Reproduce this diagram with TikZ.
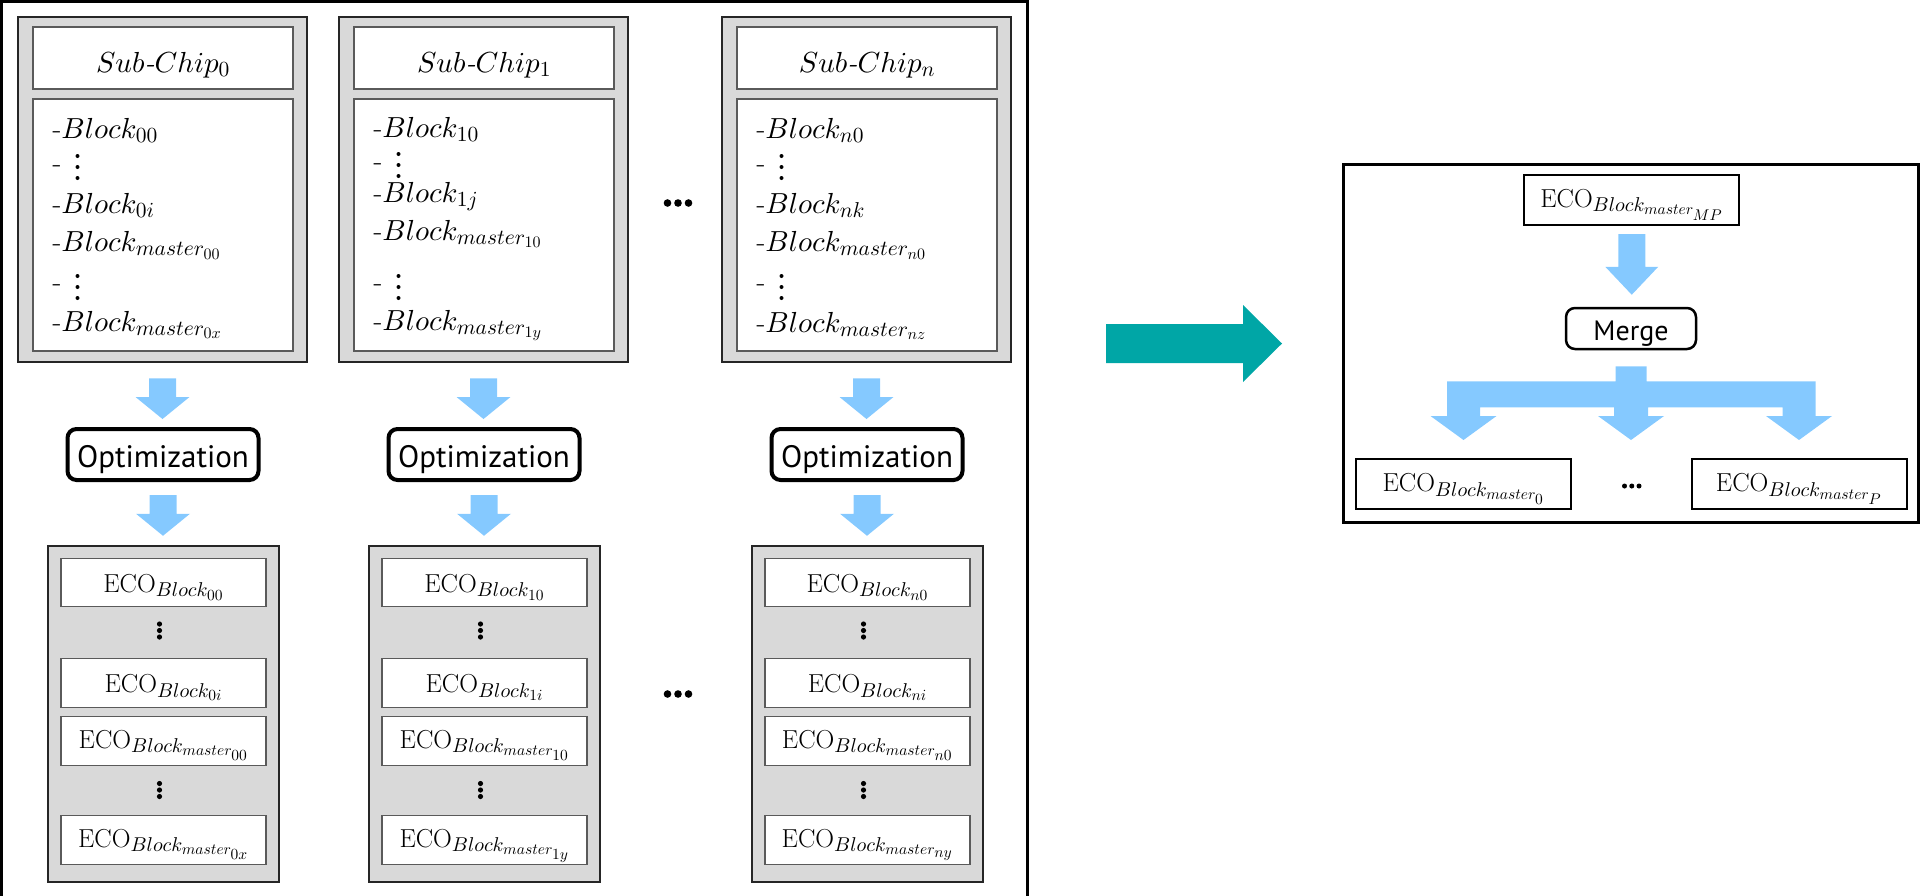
\documentclass[tikz,border=0pt]{standalone}
% math letters and symbols scaled freely to any size
\DeclareFontFamily{OML}{cmm}{\skewchar\font127 }
\DeclareFontShape{OML}{cmm}{m}{it}{<-> cmmi10}{}
\DeclareFontShape{OML}{cmm}{b}{it}{<-> cmmib10}{}
\DeclareFontFamily{OMS}{cmsy}{\skewchar\font48 }
\DeclareFontShape{OMS}{cmsy}{m}{n}{<-> cmsy10}{}
\DeclareFontFamily{OT1}{cmr}{\hyphenchar\font45 }
\DeclareFontShape{OT1}{cmr}{m}{n}{<-> cmr10}{}
\DeclareFontShape{OT1}{cmr}{m}{it}{<-> cmti10}{}
\DeclareFontShape{OT1}{cmr}{bx}{n}{<-> cmbx10}{}
% larger script sizes for the subscripted labels
\DeclareMathSizes{29}{29}{21.5}{16}
\DeclareMathSizes{26}{26}{20}{15.5}
\usepackage{fontspec}
\newfontfamily\labelsans{PT Sans}
\usetikzlibrary{calc}

\definecolor{panelgray}{RGB}{217,217,217}
\definecolor{flowblue}{RGB}{133,201,255}
\definecolor{flowteal}{RGB}{0,166,166}
\definecolor{thinedge}{RGB}{90,90,90}

% blue block arrow pointing down
% #1 top of the shaft, #2 tip, #3 head length, #4 half shaft width, #5 half head width
\newcommand\flowdown[5]{%
  \fill[flowblue] let \p1=(#1), \p2=(#2) in
    (\x1-#4pt,\y1) -- (\x1+#4pt,\y1) -- (\x1+#4pt,\y2+#3pt) -- (\x1+#5pt,\y2+#3pt)
    -- (\x1,\y2) -- (\x1-#5pt,\y2+#3pt) -- (\x1-#4pt,\y2+#3pt) -- cycle;}

\begin{document}
\begin{tikzpicture}[x=1pt,y=-1pt,
  chip/.style={draw=black!85,line width=2.5pt,fill=panelgray,minimum width=289pt,minimum height=345pt,inner sep=0pt},
  titlebox/.style={draw=thinedge,line width=1.2pt,fill=white,minimum width=260pt,minimum height=62pt,inner sep=0pt,text height=30pt,text depth=2pt,font=\fontsize{29}{34}\selectfont},
  listbox/.style={draw=thinedge,line width=1.2pt,fill=white,minimum width=260pt,minimum height=252pt,inner sep=0pt},
  listline/.style={anchor=base west,inner sep=0pt,font=\fontsize{29}{34}\selectfont},
  optbox/.style={draw=black,line width=4pt,rounded corners=9pt,fill=white,minimum width=191pt,minimum height=51pt,inner sep=0pt,text height=27pt,text depth=2pt,font=\labelsans\fontsize{31}{36}\selectfont},
  ecopanel/.style={draw=black!85,line width=2.5pt,fill=panelgray,minimum width=231pt,minimum height=336pt,inner sep=0pt},
  ecobox/.style={draw=thinedge,line width=1.2pt,fill=white,minimum width=205pt,minimum height=48.5pt,inner sep=0pt,text height=22pt,text depth=3pt,font=\fontsize{26}{30}\selectfont},
  mastertext/.style={text height=20pt,text depth=6pt},
  frame/.style={draw=black,line width=3pt},
  resultbox/.style={draw=black,line width=2pt,fill=white,minimum width=215pt,minimum height=50pt,inner sep=0pt,text height=20pt,text depth=5pt,font=\fontsize{26}{30}\selectfont},
  mergebox/.style={draw=black,line width=2.5pt,rounded corners=9pt,fill=white,minimum width=130pt,minimum height=41pt,inner sep=0pt,text height=25pt,text depth=2pt,font=\labelsans\fontsize{28}{32}\selectfont}
]
\useasboundingbox (0,0) rectangle (1921,895);
\clip (0,0) rectangle (1921,895);

% frame around the sub-chips (open at the bottom edge)
\draw[frame] (1.5,905) -- (1.5,1.5) -- (1027,1.5) -- (1027,905);

% one column per sub-chip
\foreach \i/\c/\n/\la/\lb/\lc/\ld/\ea/\eb/\ec/\ed/\ya/\yb/\yc/\yd/\dy in {
  0/162.5/0/00/0i/00/0x/00/0i/00/0x/138/213/251.5/331/156,
  1/483.5/1/10/1j/10/1y/10/1i/10/1y/137/202/240/330/154,
  n/866.5/n/n0/nk/n0/nz/n0/ni/n0/ny/138/213/251.5/332/156}{
  \node[chip] (sub\i) at (\c,189.5) {};
  \node[titlebox] (title\i) at (\c+0.5,58) {$Sub$\textit{-}$Chip_{\n}$};
  \node[listbox] (list\i) at (\c+0.5,225) {};
  \node[listline] (la\i) at (\c-110,\ya) {-$Block_{\la}$};
  \node[listline] (skipa\i) at (\c-110,\dy+16) {-};
  \foreach \k in {0,11,22} \fill (\c-85,\dy+\k) circle[radius=2pt];
  \node[listline] (lb\i) at (\c-110,\yb) {-$Block_{\lb}$};
  \node[listline] (lc\i) at (\c-110,\yc) {-$Block_{master_{\lc}}$};
  \node[listline] (skipb\i) at (\c-110,291) {-};
  \foreach \k in {276,287,298} \fill (\c-85,\k) circle[radius=2pt];
  \node[listline] (ld\i) at (\c-110,\yd) {-$Block_{master_{\ld}}$};

  \node[optbox] (opt\i) at (\c+0.5,454.5) {Optimization};

  \node[ecopanel] (eco\i) at (\c+1,714) {};
  \node[ecobox] (ea\i) at (\c+1,582.5) {$\mathrm{ECO}_{Block_{\ea}}$};
  \foreach \k in {624,630.5,637} \fill (\c-3,\k) circle[radius=2.6pt];
  \node[ecobox] (eb\i) at (\c+1,683) {$\mathrm{ECO}_{Block_{\eb}}$};
  \node[ecobox,mastertext] (ec\i) at (\c+1,741) {$\mathrm{ECO}_{Block_{master_{\ec}}}$};
  \foreach \k in {783.5,790,796.5} \fill (\c-3,\k) circle[radius=2.6pt];
  \node[ecobox,mastertext] (ed\i) at (\c+1,840) {$\mathrm{ECO}_{Block_{master_{\ed}}}$};

  \flowdown{$(sub\i.south)+(0,15)$}{$(opt\i.north)+(0,-8)$}{22}{13.5}{27}
  \flowdown{$(opt\i.south)+(0,13)$}{$(eco\i.north)+(0,-9)$}{22}{13.5}{27}
}

% ellipses between the second and the last column
\foreach \x in {667.5,678,688.5} {
  \fill (\x,203) circle[radius=3.8pt];
  \fill (\x,694) circle[radius=3.8pt];
}

% transition arrow
\coordinate (flowstart) at (1106,343.5);
\coordinate (flowtip) at (1282,343.5);
\fill[flowteal] let \p1=(flowstart), \p2=(flowtip) in
  (\x1,\y1+19.5pt) -- (\x2-39pt,\y1+19.5pt) -- (\x2-39pt,\y1+38.5pt) -- (\x2,\y2)
  -- (\x2-39pt,\y1-38.5pt) -- (\x2-39pt,\y1-19.5pt) -- (\x1,\y1-19.5pt) -- cycle;

% merge panel
\node[frame,minimum width=575pt,minimum height=358pt] (mergepanel) at (1630.5,343) {};
\node[resultbox,mastertext] (mp) at (1631.75,200) {$\mathrm{ECO}_{Block_{master_{MP}}}$};
\node[mergebox] (merge) at (1631,328.5) {Merge};
\node[resultbox] (res0) at (1463.5,484) {$\mathrm{ECO}_{Block_{master_{0}}}$};
\node[resultbox] (resP) at (1799,484) {$\mathrm{ECO}_{Block_{master_{P}}}$};
\foreach \x in {1624.5,1631.75,1639} \fill (\x,486) circle[radius=2.5pt];

\flowdown{$(mp.south)+(0,8)$}{$(merge.north)+(0,-12)$}{28}{13.5}{26.5}

% branching arrow from the merge step to the results
\fill[flowblue] let \p1=(merge.south), \p2=(res0.north), \p3=(resP.north),
    \p4=($(merge.south)+(0,16)$), \p5=($(merge.south)+(0,31)$), \p6=($(merge.south)+(0,57)$),
    \p7=($(res0.north)+(0,-42)$), \p8=($(res0.north)+(0,-18)$) in
  (\x1-15.5pt,\y4) -- (\x1+15.5pt,\y4) -- (\x1+15.5pt,\y5) -- (\x3+16.5pt,\y5)
  -- (\x3+16.5pt,\y7) -- (\x3+33pt,\y7) -- (\x3,\y8) -- (\x3-33pt,\y7) -- (\x3-16.5pt,\y7)
  -- (\x3-16.5pt,\y6) -- (\x1+17pt,\y6) -- (\x1+17pt,\y7) -- (\x1+33pt,\y7) -- (\x1,\y8)
  -- (\x1-33pt,\y7) -- (\x1-17pt,\y7) -- (\x1-17pt,\y6) -- (\x2+16.5pt,\y6)
  -- (\x2+16.5pt,\y7) -- (\x2+33pt,\y7) -- (\x2,\y8) -- (\x2-33pt,\y7) -- (\x2-16.5pt,\y7)
  -- (\x2-16.5pt,\y5) -- (\x1-15.5pt,\y5) -- cycle;
\end{tikzpicture}
\end{document}
